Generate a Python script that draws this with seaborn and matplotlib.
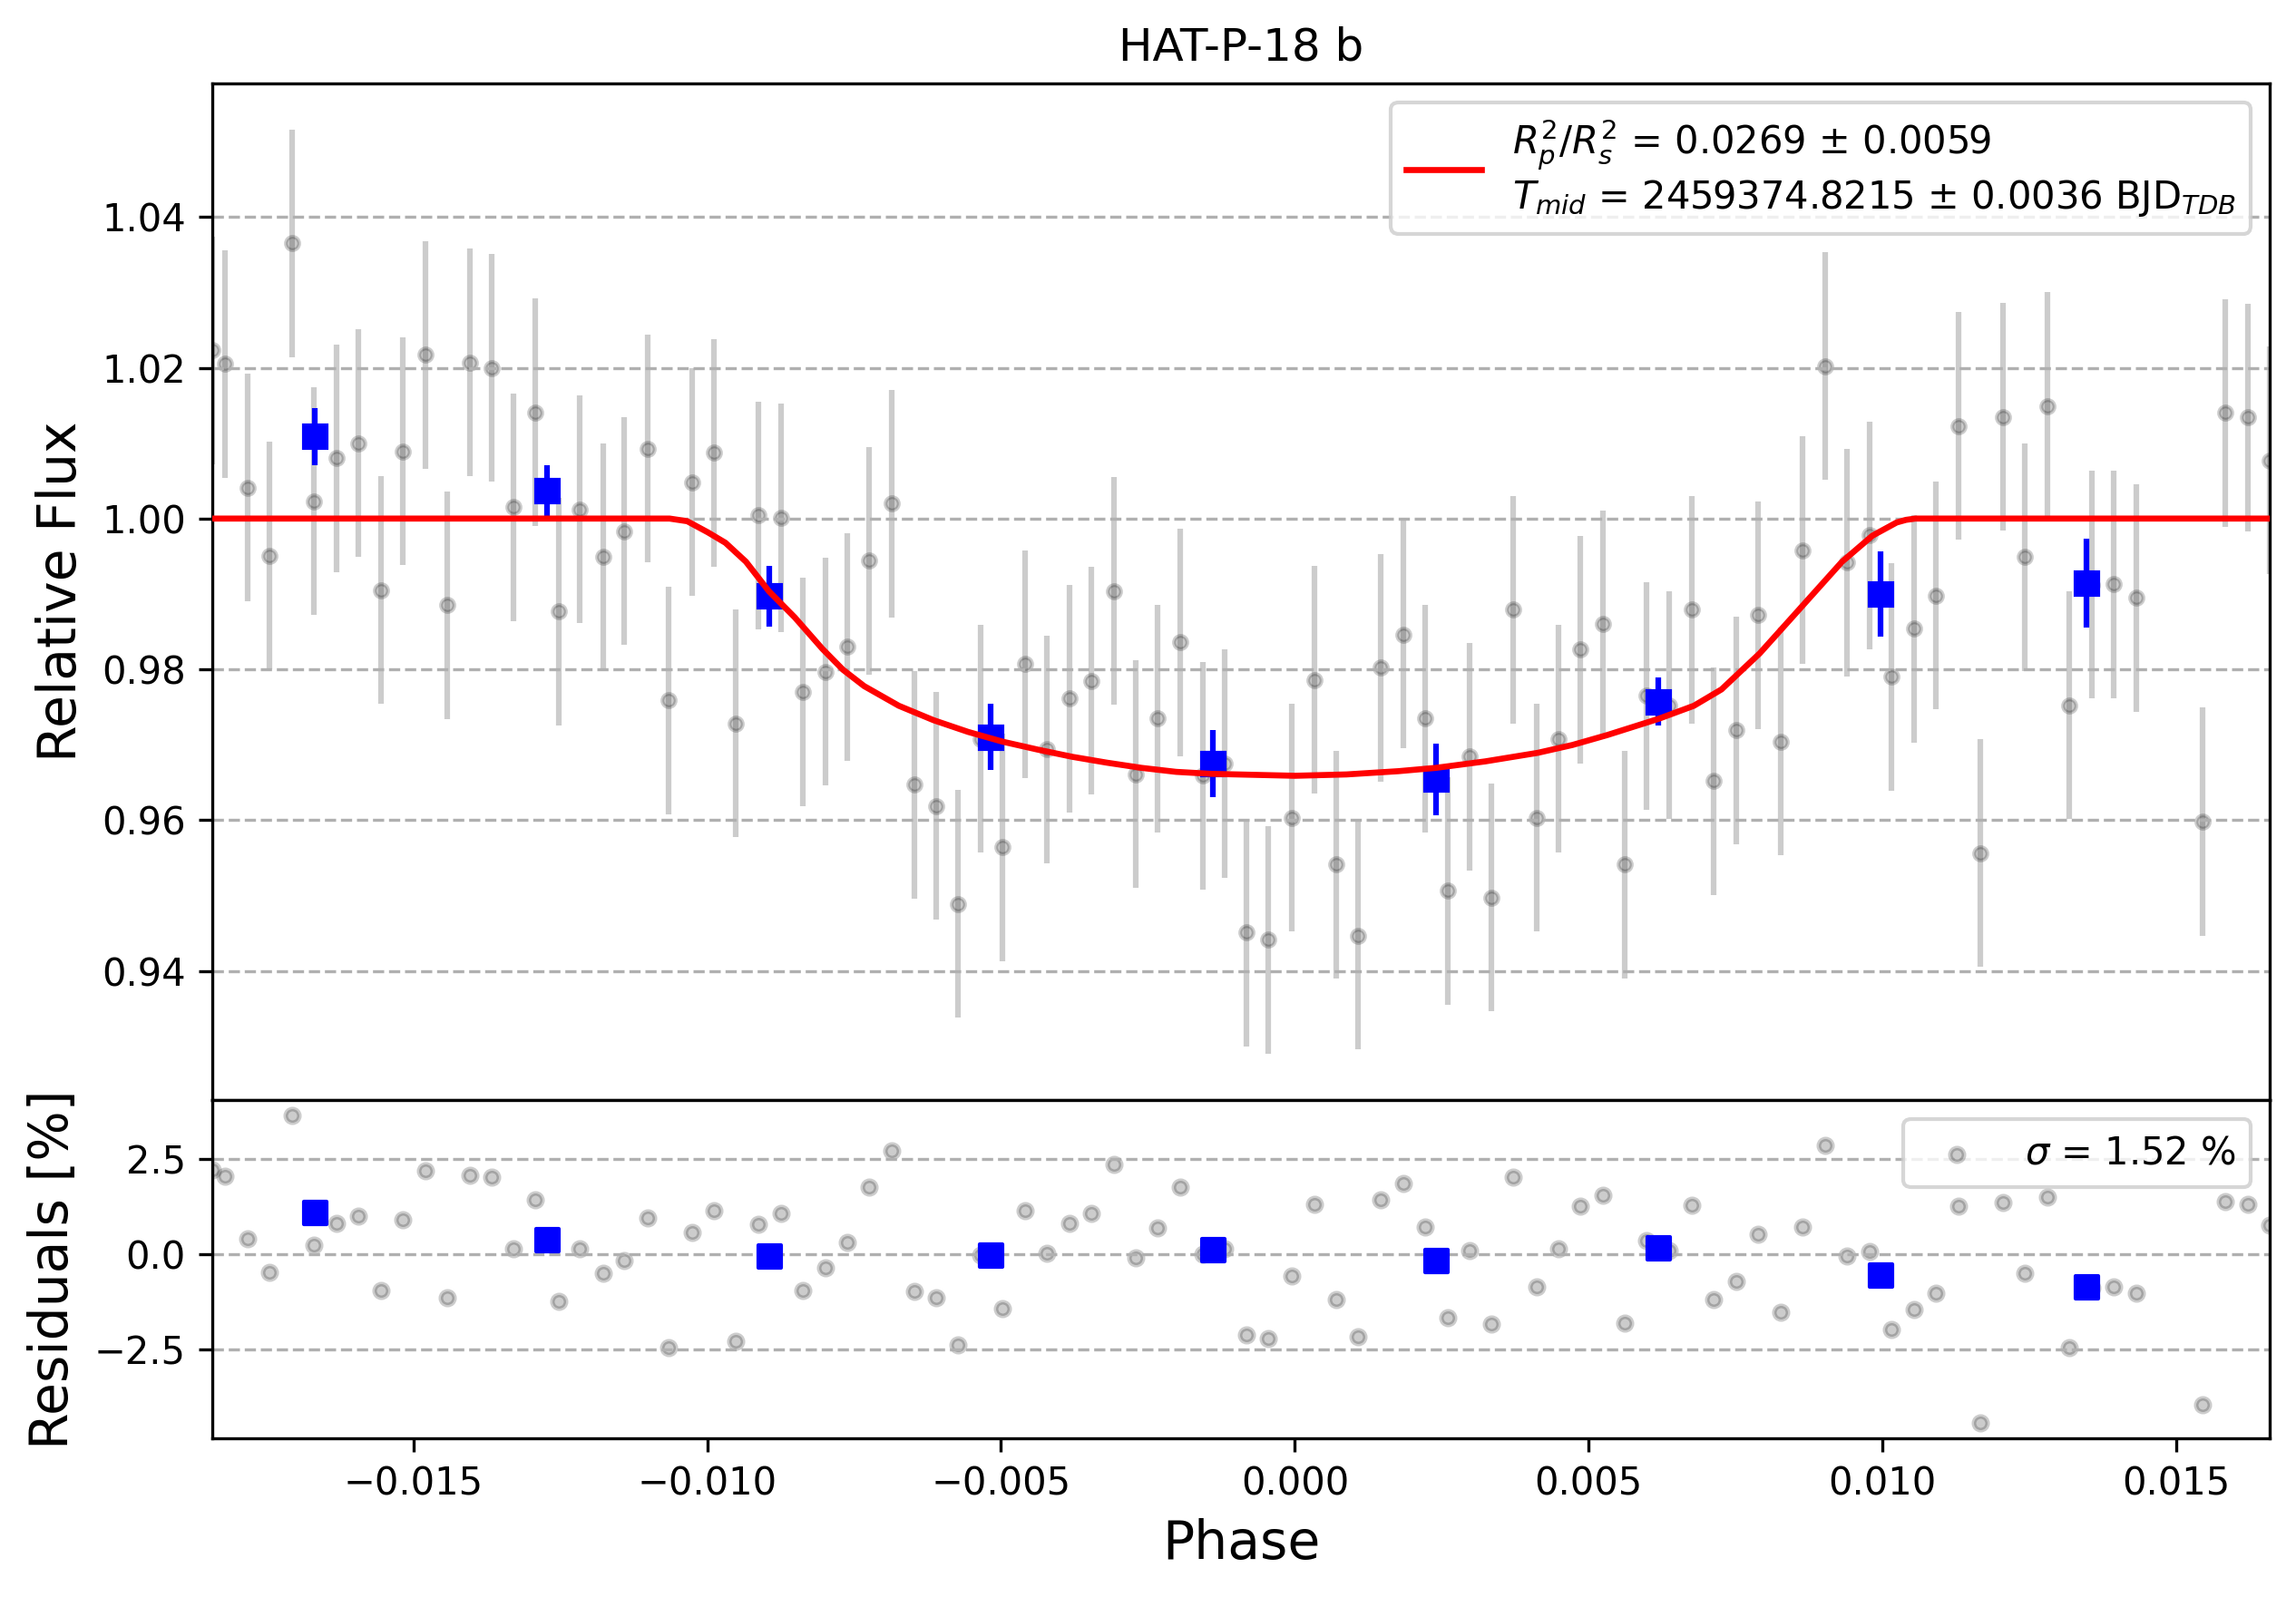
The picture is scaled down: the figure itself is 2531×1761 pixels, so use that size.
import numpy as np
import matplotlib
matplotlib.use("Agg")
import matplotlib.pyplot as plt
import seaborn as sns

# unbinned light curve (phase, detrended flux)
phase = [-0.01842, -0.01821, -0.01782, -0.01745, -0.01707, -0.01669, -0.01631, -0.01594,
         -0.01555, -0.01518, -0.01480, -0.01443, -0.01404, -0.01367, -0.01329, -0.01292,
         -0.01253, -0.01217, -0.01177, -0.01141, -0.01102, -0.01065, -0.01026, -0.00989,
         -0.00951, -0.00913, -0.00875, -0.00838, -0.00799, -0.00762, -0.00724, -0.00686,
         -0.00648, -0.00611, -0.00573, -0.00535, -0.00497, -0.00459, -0.00422, -0.00384,
         -0.00346, -0.00308, -0.00270, -0.00233, -0.00195, -0.00157, -0.00119, -0.00082,
         -0.00045, -0.00006, 0.00033, 0.00070, 0.00108, 0.00146, 0.00184, 0.00222,
         0.00260, 0.00297, 0.00335, 0.00372, 0.00411, 0.00448, 0.00485, 0.00524,
         0.00562, 0.00599, 0.00637, 0.00675, 0.00712, 0.00751, 0.00788, 0.00826,
         0.00864, 0.00902, 0.00940, 0.00978, 0.01015, 0.01054, 0.01091, 0.01130,
         0.01167, 0.01205, 0.01242, 0.01281, 0.01318, 0.01356, 0.01394, 0.01432,
         0.01545, 0.01583, 0.01621, 0.01659]
flux = [1.0223, 1.0205, 1.0041, 0.9951, 1.0365, 1.0023, 1.0080, 1.0100,
        0.9905, 1.0089, 1.0217, 0.9885, 1.0207, 1.0200, 1.0015, 1.0141,
        0.9877, 1.0012, 0.9949, 0.9983, 1.0093, 0.9759, 1.0048, 1.0087,
        0.9728, 1.0004, 1.0001, 0.9770, 0.9797, 0.9830, 0.9944, 1.0020,
        0.9647, 0.9619, 0.9489, 0.9708, 0.9564, 0.9807, 0.9694, 0.9761,
        0.9785, 0.9904, 0.9661, 0.9735, 0.9836, 0.9659, 0.9675, 0.9451,
        0.9441, 0.9603, 0.9786, 0.9541, 0.9447, 0.9802, 0.9846, 0.9735,
        0.9506, 0.9684, 0.9497, 0.9879, 0.9603, 0.9708, 0.9826, 0.9860,
        0.9541, 0.9765, 0.9752, 0.9879, 0.9652, 0.9719, 0.9872, 0.9704,
        0.9958, 1.0202, 0.9942, 0.9978, 0.9790, 0.9854, 0.9898, 1.0123,
        0.9556, 1.0135, 0.9949, 1.0149, 0.9752, 0.9912, 0.9913, 0.9895,
        0.9598, 1.0140, 1.0134, 1.0077]
flux_err = 0.0151
resid = [2.22, 2.05, 0.40, -0.48, 3.64, 0.24, 0.82, 1.00,
         -0.95, 0.90, 2.19, -1.14, 2.07, 2.02, 0.15, 1.43,
         -1.24, 0.15, -0.49, -0.17, 0.95, -2.44, 0.57, 1.15,
         -2.28, 0.79, 1.08, -0.95, -0.36, 0.31, 1.76, 2.70,
         -0.97, -1.14, -2.37, -0.02, -1.43, 1.14, 0.02, 0.81,
         1.08, 2.36, -0.09, 0.69, 1.76, -0.01, 0.15, -2.12,
         -2.22, -0.57, 1.31, -1.19, -2.17, 1.43, 1.86, 0.71,
         -1.67, 0.10, -1.83, 2.02, -0.86, 0.15, 1.27, 1.55,
         -1.81, 0.36, 0.10, 1.29, -1.19, -0.71, 0.52, -1.52,
         0.72, 2.86, -0.04, 0.07, -1.98, -1.45, -1.02, 1.25,
         -4.42, 1.36, -0.49, 1.50, -2.44, -0.88, -0.85, -1.02,
         -3.95, 1.38, 1.31, 0.77]

# binned points
bin_phase = [-0.01668, -0.01273, -0.00895, -0.00517, -0.00139, 0.00240, 0.00618, 0.00997, 0.01347]
bin_flux = [1.0109, 1.0037, 0.9897, 0.9710, 0.9675, 0.9654, 0.9757, 0.9900, 0.9914]
bin_err = [0.0038, 0.0034, 0.0040, 0.0044, 0.0045, 0.0047, 0.0032, 0.0057, 0.0059]
bin_resid = [1.10, 0.38, -0.05, -0.02, 0.12, -0.17, 0.17, -0.55, -0.86]

# transit model curve
model_phase = [-0.01842, -0.01064, -0.01034, -0.00999, -0.00969, -0.00934, -0.00895, -0.00851,
               -0.00804, -0.00769, -0.00733, -0.00674, -0.00615, -0.00556, -0.00497, -0.00438,
               -0.00379, -0.00320, -0.00261, -0.00202, -0.00143, 0.0, 0.00088, 0.00176,
               0.00240, 0.00324, 0.00413, 0.00472, 0.00531, 0.00619, 0.00679, 0.00726,
               0.00791, 0.00849, 0.00931, 0.00983, 0.01024, 0.01040, 0.01056, 0.01659]
model_flux = [1.0, 1.0, 0.99965, 0.99818, 0.99679, 0.99427, 0.99036, 0.98689,
              0.98272, 0.97995, 0.97778, 0.97517, 0.97326, 0.97170, 0.97040, 0.96936,
              0.96840, 0.96762, 0.96693, 0.96640, 0.96614, 0.96588, 0.96606, 0.96649,
              0.96693, 0.96779, 0.96892, 0.96996, 0.97127, 0.97344, 0.97517, 0.97734,
              0.98212, 0.98715, 0.99427, 0.99774, 0.99948, 0.99983, 1.0, 1.0]

lc_ticks = [0.94, 0.96, 0.98, 1.00, 1.02, 1.04]
res_ticks = [-2.5, 0.0, 2.5]

model_label = ('$R_{p}^{2}/R_{s}^{2}$ = 0.0269 $\\pm$ 0.0059\n'
               '$T_{mid}$ = 2459374.8215 $\\pm$ 0.0036 BJD$_{TDB}$')
sigma_label = '$\\sigma$ = 1.52 %'

fig = plt.figure(figsize=(2531 / 300, 1761 / 300), dpi=300)
ax_lc = fig.add_axes([0.0925, 0.3112, 0.8961, 0.6366])
ax_res = fig.add_axes([0.0925, 0.0994, 0.8961, 0.2118], sharex=ax_lc)

# light curve panel
ax_lc.errorbar(phase, flux, yerr=flux_err, ls='none', marker='o', color='black',
               markersize=3.5, alpha=0.2, zorder=1)
ax_lc.errorbar(bin_phase, bin_flux, yerr=bin_err, ls='none', marker='s', color='blue',
               markersize=6, zorder=4)
sns.lineplot(x=model_phase, y=model_flux, ax=ax_lc, color='red', lw=1.6,
             sort=False, estimator=None, label=model_label, zorder=5)
ax_lc.legend(loc='upper right')
ax_lc.set_title('HAT-P-18 b')
ax_lc.set_ylabel('Relative Flux', fontsize=14)
ax_lc.set_yticks(lc_ticks)
ax_lc.grid(axis='y', ls='--')
ax_lc.tick_params(axis='x', bottom=False, labelbottom=False)

# residuals panel
sns.scatterplot(x=phase, y=resid, ax=ax_res, color='black', alpha=0.2, s=13,
                edgecolor='black', linewidth=1.2, label=sigma_label, zorder=1)
sns.scatterplot(x=bin_phase, y=bin_resid, ax=ax_res, marker='s', color='blue', s=36,
                edgecolor='blue', linewidth=1, zorder=4)
ax_res.legend(loc='upper right')
ax_res.set_yticks(res_ticks)
ax_res.grid(axis='y', ls='--')
ax_res.set_ylabel('Residuals [%]', fontsize=14)
ax_res.set_xlabel('Phase', fontsize=14)
ax_res.set_xlim(min(phase), max(phase))

fig.savefig('out.png', dpi=300)
